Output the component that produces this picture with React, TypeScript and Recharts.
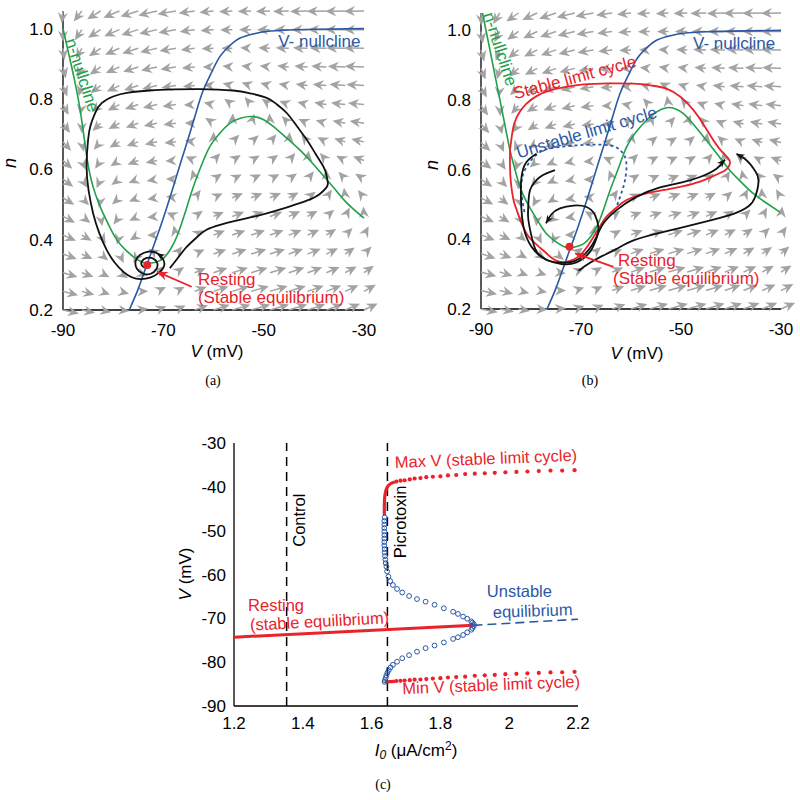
import React from 'react';
import { ScatterChart, Scatter, XAxis, YAxis, ReferenceLine } from 'recharts';

type P = [number, number];

const FONT = '"Liberation Sans", Arial, Helvetica, sans-serif';
const RED = '#e8232a';
const BLUE = '#2b58a5';
const GREEN = '#22a04b';
const GRAY = '#a3a3a3';
const INK = '#111';

// ---------- (a), (b): phase plane, V (mV) against n ----------
const vTicks = [-90, -70, -50, -30];
const vMinor = [-90, -80, -70, -60, -50, -40, -30];
const nTicks = [0.2, 0.4, 0.6, 0.8, 1.0];
const nMinor = [0.2, 0.3, 0.4, 0.5, 0.6, 0.7, 0.8, 0.9, 1.0];

// grid of the grey direction field
const fieldV = [-90, -86.25, -82.5, -78.75, -75, -71.25, -67.5, -63.75, -60, -56.25, -52.5, -48.75, -45, -41.25, -37.5, -33.75, -30];
const fieldN = [0.2, 0.253, 0.306, 0.359, 0.413, 0.466, 0.519, 0.572, 0.625, 0.678, 0.731, 0.784, 0.838, 0.891, 0.944, 0.997, 1.05];

// blue curve, labelled "V- nullcline" (same in both panels)
const blueNull: P[] = [
  [-76.8, 0.2], [-75, 0.26], [-73.3, 0.328], [-70.5, 0.44], [-68, 0.551], [-66.3, 0.63], [-64.7, 0.703],
  [-63.3, 0.77], [-62, 0.826], [-60.3, 0.878], [-58.7, 0.921], [-56.7, 0.952], [-54.7, 0.973], [-52, 0.985],
  [-49.4, 0.992], [-45, 0.996], [-40, 0.998], [-30, 1.0],
];

// green curve, labelled "n-nullcline"
const greenNullA: P[] = [
  [-90, 1.0], [-88.3, 0.893], [-86.6, 0.77], [-85.2, 0.63], [-84, 0.55], [-82.6, 0.494], [-81, 0.445],
  [-79.3, 0.4], [-77.5, 0.37], [-76, 0.352], [-74.5, 0.338], [-73.3, 0.333], [-71.5, 0.336], [-70, 0.347],
  [-68.7, 0.37], [-67.3, 0.409], [-65.7, 0.475], [-64, 0.551], [-62.3, 0.615], [-60.7, 0.665], [-58.7, 0.703],
  [-56.7, 0.731], [-54.5, 0.746], [-52.1, 0.75], [-50, 0.741], [-48.1, 0.722], [-45.5, 0.69], [-42.8, 0.655],
  [-40, 0.613], [-37.4, 0.57], [-35.4, 0.537], [-33.4, 0.504], [-30, 0.461],
];
const greenNullB: P[] = [
  [-89.7, 1.05], [-88.2, 0.943], [-87.2, 0.87], [-86.2, 0.8], [-85.2, 0.727], [-84.2, 0.656], [-83.2, 0.6],
  [-82.2, 0.55], [-80.9, 0.508], [-79.5, 0.473], [-78.2, 0.443], [-76.9, 0.416], [-75, 0.393], [-72.9, 0.377],
  [-71.2, 0.378], [-69.5, 0.387], [-68.2, 0.405], [-66.9, 0.435], [-65.5, 0.485], [-64.2, 0.54], [-62.5, 0.605],
  [-60.9, 0.665], [-59, 0.708], [-56.9, 0.742], [-55, 0.765], [-52.9, 0.778], [-51.2, 0.775], [-49.5, 0.761],
  [-47.2, 0.725], [-44.9, 0.684], [-42.5, 0.64], [-40.2, 0.598], [-37.8, 0.562], [-35.5, 0.531], [-33, 0.505],
  [-30.2, 0.478],
];

// (a) black trajectory ending in a spiral on the resting point
const trajA: P[] = [
  [-68.7, 0.319], [-67, 0.35], [-65.3, 0.38], [-63.3, 0.407], [-61.4, 0.428], [-58.7, 0.442], [-56.1, 0.452],
  [-52.7, 0.463], [-49.4, 0.475], [-46, 0.489], [-42.8, 0.504], [-40.5, 0.516], [-38.8, 0.53], [-37.5, 0.548],
  [-37.2, 0.561], [-37.5, 0.585], [-38.1, 0.608], [-39.7, 0.645], [-41.4, 0.684], [-43.4, 0.723], [-45.4, 0.76],
  [-47.4, 0.785], [-49.4, 0.803], [-52.7, 0.816], [-56.1, 0.824], [-62.7, 0.828], [-67.7, 0.827], [-72.7, 0.824],
  [-77, 0.818], [-80, 0.807], [-82.3, 0.788], [-83.6, 0.76], [-84.5, 0.725], [-85, 0.684], [-85.3, 0.608],
  [-84.9, 0.54], [-84, 0.475], [-82.8, 0.42], [-81.3, 0.371], [-79.7, 0.335], [-78, 0.309], [-76.3, 0.293],
  [-74.5, 0.288], [-72.5, 0.293], [-70.8, 0.307], [-69.8, 0.328], [-70.3, 0.35], [-71.5, 0.363], [-73, 0.366],
  [-74.6, 0.357], [-75.5, 0.34], [-75.3, 0.318], [-74, 0.303], [-72.5, 0.303], [-71.4, 0.316], [-71.2, 0.333],
  [-72, 0.346], [-73.3, 0.348], [-74.3, 0.338], [-74.2, 0.325], [-73.4, 0.32], [-72.8, 0.326],
];
const restA: P = [-73.2, 0.328];

// (b) stable limit cycle (red), unstable limit cycle (blue dotted), three black trajectories
const stableCycleB: P[] = [
  [-84.2, 0.656], [-83.8, 0.7], [-83.3, 0.735], [-82.3, 0.765], [-80.9, 0.79], [-78.8, 0.812], [-76.2, 0.828],
  [-73, 0.838], [-69.5, 0.845], [-64.5, 0.848], [-59.5, 0.847], [-56, 0.842], [-52.9, 0.833], [-50, 0.808],
  [-47.5, 0.771], [-45.5, 0.73], [-43.5, 0.684], [-41.7, 0.65], [-40.3, 0.627], [-40.4, 0.61], [-41.2, 0.598],
  [-43.5, 0.582], [-46.2, 0.566], [-49.5, 0.553], [-52.9, 0.543], [-56.9, 0.532], [-60.9, 0.513], [-63, 0.49],
  [-64.9, 0.465], [-66.3, 0.435], [-67.5, 0.407], [-68.7, 0.38], [-70, 0.357], [-71.5, 0.342], [-73.2, 0.335],
  [-74.4, 0.336], [-75.7, 0.345], [-76.9, 0.36], [-78.5, 0.38], [-80, 0.4], [-80.9, 0.417], [-82, 0.45],
  [-83, 0.49], [-83.5, 0.513], [-84, 0.56], [-84.2, 0.61], [-84.2, 0.656],
];
const unstableCycleB: P[] = [
  [-81.3, 0.478], [-81.9, 0.531], [-81.8, 0.575], [-80.9, 0.608], [-79.5, 0.635], [-77.5, 0.656], [-74.5, 0.665],
  [-70.9, 0.67], [-67.5, 0.672], [-64.2, 0.67], [-62.5, 0.66], [-61.3, 0.64], [-60.9, 0.608], [-61.2, 0.57],
  [-61.8, 0.538], [-62.9, 0.493],
];
const traj1B: P[] = [
  [-78.9, 0.646], [-80.9, 0.622], [-81.9, 0.579], [-82, 0.513], [-81.5, 0.436], [-79.9, 0.379], [-77.2, 0.343],
  [-74.2, 0.333], [-71.2, 0.338], [-68.5, 0.369], [-66.9, 0.407], [-65.5, 0.446], [-62.9, 0.484], [-58.9, 0.522],
  [-54.2, 0.549], [-50, 0.563], [-46.2, 0.579], [-42.9, 0.603], [-41.2, 0.629],
];
const traj2B: P[] = [
  [-75.2, 0.599], [-76.8, 0.59], [-78.2, 0.579], [-79.4, 0.562], [-80.2, 0.541], [-80.5, 0.51], [-80.6, 0.47],
  [-80.3, 0.436], [-79.2, 0.374], [-78, 0.352], [-76.7, 0.34], [-73.9, 0.329], [-70.9, 0.334], [-68.2, 0.364],
  [-66.9, 0.403], [-66.5, 0.431], [-67.2, 0.47], [-68.9, 0.493], [-71.5, 0.497], [-74.2, 0.489], [-75.9, 0.472],
  [-77, 0.446],
];
const traj3B: P[] = [
  [-70.5, 0.31], [-68.5, 0.33], [-66.2, 0.349], [-63, 0.372], [-59.5, 0.397], [-54.5, 0.418], [-49.5, 0.435],
  [-44.5, 0.453], [-39.5, 0.473], [-36.5, 0.495], [-35.2, 0.521], [-34.5, 0.569], [-35.2, 0.597], [-36.2, 0.617],
  [-37.6, 0.635], [-38.9, 0.646],
];
const restB: P = [-72.3, 0.379];

// ---------- (c): bifurcation diagram, I0 against V ----------
const iTicks = [1.2, 1.4, 1.6, 1.8, 2, 2.2];
const vcTicks = [-90, -80, -70, -60, -50, -40, -30];
const controlI = 1.353;
const picrotoxinI = 1.646;

const restingLine: P[] = [[1.2, -74.3], [1.896, -71.6]];
const unstableEq: P[] = [[1.896, -71.6], [2.2, -70.2]];
const unstableCycleC: P[] = [
  [1.897, -71.3], [1.893, -71.0], [1.89, -70.7], [1.878, -70.1], [1.866, -69.6], [1.851, -69.0], [1.837, -68.5],
  [1.81, -67.7], [1.783, -66.9], [1.757, -66.2], [1.732, -65.6], [1.709, -64.9], [1.689, -64.1], [1.674, -63.3],
  [1.662, -62.4], [1.654, -61.5], [1.649, -60.5], [1.645, -59.3], [1.643, -58.2], [1.641, -57.4], [1.64, -56.6],
  [1.639, -55.8], [1.638, -55.0], [1.638, -54.2], [1.637, -53.4], [1.637, -52.6], [1.637, -51.8], [1.637, -51.0],
  [1.637, -50.2], [1.637, -49.4], [1.637, -48.6], [1.637, -47.8], [1.638, -47.0],
  [1.897, -71.8], [1.893, -72.2], [1.89, -72.6], [1.878, -73.2], [1.866, -73.8], [1.851, -74.3], [1.837, -74.7],
  [1.81, -75.5], [1.783, -76.2], [1.757, -76.8], [1.732, -77.6], [1.709, -78.4], [1.689, -79.1], [1.674, -79.9],
  [1.662, -80.6], [1.655, -81.2], [1.65, -81.8], [1.646, -82.4], [1.643, -83.0], [1.641, -83.6], [1.639, -84.1],
  [1.638, -84.5],
];
const maxThick: P[] = [
  [1.637, -46.5], [1.637, -44.5], [1.638, -42.5], [1.641, -41.0], [1.646, -40.0], [1.655, -39.3], [1.667, -38.9],
];
const minThick: P[] = [[1.638, -84.5], [1.655, -84.45], [1.668, -84.4]];
const cycleI = [
  1.672, 1.684, 1.696, 1.711, 1.725, 1.742, 1.759, 1.778, 1.8, 1.822, 1.846, 1.872, 1.9, 1.929, 1.958, 1.989,
  2.021, 2.053, 2.086, 2.12, 2.154, 2.19,
];
const maxV = [
  -38.8, -38.6, -38.5, -38.3, -38.1, -38.0, -37.8, -37.7, -37.6, -37.4, -37.3, -37.1, -37.0, -36.9, -36.8, -36.7,
  -36.6, -36.5, -36.4, -36.3, -36.3, -36.2,
];
const minV = [
  -84.3, -84.25, -84.2, -84.1, -84.0, -83.95, -83.85, -83.75, -83.65, -83.5, -83.4, -83.3, -83.1, -83.0, -82.9,
  -82.75, -82.65, -82.55, -82.45, -82.35, -82.3, -82.2,
];

// ---------- helpers ----------
const pts = (a: P[]) => a.map(([x, y]) => ({ x, y }));

const interp = (c: P[], v: number) => {
  let i = 1;
  while (i < c.length - 1 && v > c[i][0]) i++;
  const a = c[i - 1];
  const b = c[i];
  return a[1] + ((v - a[0]) * (b[1] - a[1])) / (b[0] - a[0]);
};

// arrow directions follow the two curves
const buildField = (green: P[]) => {
  const out: any[] = [];
  fieldV.forEach((v) =>
    fieldN.forEach((n) => {
      const u = (interp(green, v) - n) * (0.4 + (0.6 * (v + 90)) / 60);
      const w = 0.155 * (interp(blueNull, v) - n);
      const mag = Math.hypot(u, w);
      out.push({
        x: v,
        y: n,
        ang: (Math.atan2(-w, u) * 180) / Math.PI,
        len: Math.min(20, 10 + 30 * Math.max(0, mag - 0.12)),
      });
    }),
  );
  return out;
};
const fieldA = buildField(greenNullA);
const fieldB = buildField(greenNullB);

const angleOf = (from: P, to: P, kx: number, ky: number) =>
  (Math.atan2(-(to[1] - from[1]) * ky, (to[0] - from[0]) * kx) * 180) / Math.PI;

const kxA = 301 / 60;
const kyA = 299 / 0.85;
const kxB = 300 / 60;
const kyB = 296 / 0.85;

const headsA = [{ x: -71.3, y: 0.361, ang: angleOf([-70.3, 0.352], [-71.3, 0.361], kxA, kyA) }];
const headsB = [
  { x: -41.2, y: 0.629, ang: angleOf([-42.9, 0.603], [-41.2, 0.629], kxB, kyB) },
  { x: -77, y: 0.446, ang: angleOf([-75.9, 0.472], [-77, 0.446], kxB, kyB) },
  { x: -38.9, y: 0.646, ang: angleOf([-37.6, 0.635], [-38.9, 0.646], kxB, kyB) },
];
const pointerA: P[] = [[-64.35, 0.266], [-71.3, 0.309]];
const pointerB: P[] = [[-63.5, 0.321], [-71.2, 0.36]];

const notesA = [
  { x: -47.1, y: 0.949, text: 'V- nullcline', color: BLUE },
  { x: -89.6, y: 0.966, text: 'n-nullcline', color: GREEN, rot: 72 },
  { x: -63.1, y: 0.271, text: 'Resting', color: RED },
  { x: -63.1, y: 0.22, text: '(Stable equilibrium)', color: RED },
];
const notesB = [
  { x: -47.6, y: 0.946, text: 'V- nullcline', color: BLUE },
  { x: -89.6, y: 1.046, text: 'n-nullcline', color: GREEN, rot: 72 },
  { x: -83.2, y: 0.802, text: 'Stable limit cycle', color: RED, rot: -15 },
  { x: -82.5, y: 0.632, text: 'Unstable limit cycle', color: BLUE, rot: -16.5 },
  { x: -62.6, y: 0.323, text: 'Resting', color: RED },
  { x: -63.6, y: 0.272, text: '(Stable equilibrium)', color: RED },
];
const notesC = [
  { x: 1.668, y: -35.7, text: 'Max V (stable limit cycle)', color: RED, rot: -2.3 },
  { x: 1.69, y: -87.3, text: 'Min V (stable limit cycle)', color: RED, rot: -2.3 },
  { x: 1.241, y: -68.4, text: 'Resting', color: RED },
  { x: 1.247, y: -72.8, text: '(stable equilibrium)', color: RED, rot: -3 },
  { x: 1.935, y: -65.1, text: 'Unstable', color: BLUE },
  { x: 1.953, y: -69.9, text: 'equilibrium', color: BLUE, rot: -2 },
  { x: 1.406, y: -47.6, text: 'Control', color: '#000', rot: -90, anchor: 'middle' },
  { x: 1.701, y: -48.0, text: 'Picrotoxin', color: '#000', rot: -90, anchor: 'middle' },
];

// ---------- shapes ----------
const noDot = () => <g />;

const FieldArrow = (props: any) => {
  const { cx, cy, payload } = props;
  const L = payload.len;
  return (
    <g transform={`translate(${cx},${cy}) rotate(${payload.ang})`}>
      {L > 11 && <line x1={0} y1={0} x2={L - 7} y2={0} stroke={GRAY} strokeWidth={1.5} />}
      <path d={`M${L},0 L${L - 11},-5 L${L - 7.5},0 L${L - 11},5 Z`} fill={GRAY} />
    </g>
  );
};

const dart = (color: string, len: number, half: number) => (props: any) => {
  const { cx, cy, payload } = props;
  return (
    <path
      transform={`translate(${cx},${cy}) rotate(${payload.ang})`}
      d={`M0,0 L${-len},${-half} L${-len * 0.7},0 L${-len},${half} Z`}
      fill={color}
    />
  );
};
const InkHead = dart(INK, 8, 3.5);
const RedHead = dart(RED, 11, 4.5);

const noteShape = (size: number) => (props: any) => {
  const { cx, cy, payload } = props;
  return (
    <text
      x={cx}
      y={cy}
      transform={payload.rot ? `rotate(${payload.rot},${cx},${cy})` : undefined}
      fill={payload.color}
      fontSize={size}
      fontFamily={FONT}
      textAnchor={payload.anchor || 'start'}
    >
      {payload.text}
    </text>
  );
};
const Note17 = noteShape(17);
const Note165 = noteShape(16.5);

const dotShape = (r: number) => (props: any) => <circle cx={props.cx} cy={props.cy} r={r} fill={RED} />;
const RestDot = dotShape(4);
const SmallDot = dotShape(2.1);
const RingDot = (props: any) => (
  <circle cx={props.cx} cy={props.cy} r={2.4} fill="none" stroke={BLUE} strokeWidth={1} />
);

const curve = (key: string, data: P[], stroke: string, width = 1.7, dash?: string, joint: any = 'natural') => (
  <Scatter
    key={key}
    data={pts(data)}
    fill={stroke}
    line={{ stroke, strokeWidth: width, strokeDasharray: dash }}
    lineJointType={joint}
    shape={noDot}
    isAnimationActive={false}
  />
);

const tickStyle = { fill: '#000', fontSize: 17, fontFamily: FONT };
const lineStyle = { stroke: '#000', strokeWidth: 1.3 };

const frameAxes = (xDomain: number[], yDomain: number[], xMinor: number[], yMinor: number[]) => [
  <XAxis key="xb" xAxisId="xb" type="number" orientation="bottom" mirror height={0} domain={xDomain} ticks={xMinor}
    interval={0} tick={false} tickSize={4} axisLine={false} tickLine={{ stroke: '#000' }} />,
  <XAxis key="xt" xAxisId="xt" type="number" orientation="top" mirror height={0} domain={xDomain} ticks={xMinor}
    interval={0} tick={false} tickSize={4} axisLine={lineStyle} tickLine={{ stroke: '#000' }} />,
  <YAxis key="yl" yAxisId="yl" type="number" orientation="left" mirror width={0} domain={yDomain} ticks={yMinor}
    interval={0} tick={false} tickSize={4} axisLine={false} tickLine={{ stroke: '#000' }} />,
  <YAxis key="yr" yAxisId="yr" type="number" orientation="right" mirror width={0} domain={yDomain} ticks={yMinor}
    interval={0} tick={false} tickSize={4} axisLine={lineStyle} tickLine={{ stroke: '#000' }} />,
];

const VLabel = (x: number, y: number) => () => (
  <text x={x} y={y} textAnchor="middle" fontSize={17} fontFamily={FONT} fill="#000">
    <tspan fontStyle="italic">V</tspan> (mV)
  </text>
);
const NLabel = (x: number, y: number) => () => (
  <text transform={`translate(${x},${y}) rotate(-90)`} textAnchor="middle" fontSize={18} fontFamily={FONT}
    fontStyle="italic" fill="#000">
    n
  </text>
);
const VcLabel = () => (
  <text transform="translate(31,154) rotate(-90)" textAnchor="middle" fontSize={17} fontFamily={FONT} fill="#000">
    <tspan fontStyle="italic">V</tspan> (mV)
  </text>
);
const IcLabel = () => (
  <text x={256} y={336} textAnchor="middle" fontSize={17} fontFamily={FONT} fill="#000">
    <tspan fontStyle="italic">I</tspan>
    <tspan fontStyle="italic" fontSize={12} dy={3}>0</tspan>
    <tspan dy={-3}> (μA/cm</tspan>
    <tspan fontSize={12} dy={-6}>2</tspan>
    <tspan dy={6}>)</tspan>
  </text>
);

const fmt1 = (v: number) => v.toFixed(1);
const fmtI = (v: number) => (v === 2 ? '2' : v.toFixed(1));

const Phase = (props: {
  margin: any;
  field: any[];
  green: P[];
  xLabel: any;
  yLabel: any;
  children: any;
}) => (
  <ScatterChart width={400} height={370} margin={props.margin}>
    <XAxis type="number" dataKey="x" domain={[-90, -30]} ticks={vTicks} interval={0} tickLine={false} tickSize={6}
      tickMargin={8} height={30} axisLine={lineStyle} tick={tickStyle} label={{ content: props.xLabel }} />
    <YAxis type="number" dataKey="y" domain={[0.2, 1.05]} ticks={nTicks} interval={0} tickLine={false} tickSize={4}
      tickMargin={6} width={50} axisLine={lineStyle} tick={tickStyle} tickFormatter={fmt1}
      label={{ content: props.yLabel }} />
    {frameAxes([-90, -30], [0.2, 1.05], vMinor, nMinor)}
    <Scatter data={props.field} shape={FieldArrow} isAnimationActive={false} />
    {curve('blue', blueNull, BLUE, 1.6)}
    {curve('green', props.green, GREEN, 1.6)}
    {props.children}
  </ScatterChart>
);

const caption: React.CSSProperties = {
  position: 'absolute',
  fontFamily: '"Liberation Serif", "DejaVu Serif", serif',
  fontSize: 14,
  transform: 'translate(-50%, -50%)',
};

export default function App() {
  return (
    <div style={{ position: 'absolute', left: 0, top: 0, width: 800, height: 800, background: '#fff' }}>
      <div style={{ position: 'absolute', left: 0, top: 0 }}>
        <Phase margin={{ top: 11, right: 36, bottom: 30, left: 13 }} field={fieldA} green={greenNullA}
          xLabel={VLabel(217, 357)} yLabel={NLabel(16, 163)}>
          {curve('trajA', trajA, INK, 1.8)}
          {curve('ptrA', pointerA, RED, 1.8, undefined, 'linear')}
          <Scatter data={[{ x: pointerA[1][0], y: pointerA[1][1], ang: angleOf(pointerA[0], pointerA[1], kxA, kyA) }]}
            shape={RedHead} isAnimationActive={false} />
          <Scatter data={headsA} shape={InkHead} isAnimationActive={false} />
          <Scatter data={pts([restA])} shape={RestDot} isAnimationActive={false} />
          <Scatter data={notesA} shape={Note17} isAnimationActive={false} />
        </Phase>
      </div>
      <div style={{ position: 'absolute', left: 400, top: 0 }}>
        <Phase margin={{ top: 13, right: 19, bottom: 31, left: 31 }} field={fieldB} green={greenNullB}
          xLabel={VLabel(237, 359)} yLabel={NLabel(38, 165)}>
          {curve('stable', stableCycleB, RED, 1.8)}
          {curve('unstable', unstableCycleB, BLUE, 1.8, '3 3')}
          {curve('t1', traj1B, INK, 1.8)}
          {curve('t2', traj2B, INK, 1.8)}
          {curve('t3', traj3B, INK, 1.8)}
          {curve('ptrB', pointerB, RED, 1.8, undefined, 'linear')}
          <Scatter data={[{ x: pointerB[1][0], y: pointerB[1][1], ang: angleOf(pointerB[0], pointerB[1], kxB, kyB) }]}
            shape={RedHead} isAnimationActive={false} />
          <Scatter data={headsB} shape={InkHead} isAnimationActive={false} />
          <Scatter data={pts([restB])} shape={RestDot} isAnimationActive={false} />
          <Scatter data={notesB} shape={Note17} isAnimationActive={false} />
        </Phase>
      </div>
      <div style={{ position: 'absolute', left: 160, top: 420 }}>
        <ScatterChart width={440} height={360} margin={{ top: 23, right: 22, bottom: 44, left: 24 }}>
          <XAxis type="number" dataKey="x" domain={[1.2, 2.2]} ticks={iTicks} interval={0} tickLine={false} tickSize={4}
            tickMargin={7} height={30} axisLine={lineStyle} tick={tickStyle} tickFormatter={fmtI}
            label={{ content: IcLabel }} />
          <YAxis type="number" dataKey="y" domain={[-90, -30]} ticks={vcTicks} interval={0} tickLine={false} tickSize={3}
            tickMargin={5} width={50} axisLine={lineStyle} tick={tickStyle} label={{ content: VcLabel }} />
          {frameAxes([1.2, 2.2], [-90, -30], iTicks, vcTicks)}
          <ReferenceLine x={controlI} stroke="#000" strokeWidth={1.5} strokeDasharray="9 6" />
          <ReferenceLine x={picrotoxinI} stroke="#000" strokeWidth={1.5} strokeDasharray="9 6" />
          {curve('rest', restingLine, RED, 3, undefined, 'linear')}
          {curve('ueq', unstableEq, BLUE, 1.6, '9 5', 'linear')}
          {curve('maxT', maxThick, RED, 3.2)}
          {curve('minT', minThick, RED, 3.2, undefined, 'linear')}
          <Scatter data={pts(unstableCycleC)} shape={RingDot} isAnimationActive={false} />
          <Scatter data={cycleI.map((x, i) => ({ x, y: maxV[i] }))} shape={SmallDot} isAnimationActive={false} />
          <Scatter data={cycleI.map((x, i) => ({ x, y: minV[i] }))} shape={SmallDot} isAnimationActive={false} />
          <Scatter data={notesC} shape={Note165} isAnimationActive={false} />
        </ScatterChart>
      </div>
      <div style={{ ...caption, left: 213, top: 381 }}>(a)</div>
      <div style={{ ...caption, left: 590, top: 381 }}>(b)</div>
      <div style={{ ...caption, left: 383, top: 785 }}>(c)</div>
    </div>
  );
}
